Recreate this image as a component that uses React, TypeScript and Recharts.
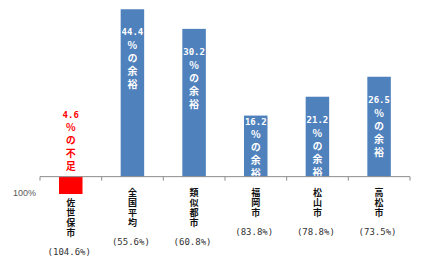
import React from 'react';
import { BarChart, Bar, XAxis, YAxis, ReferenceLine } from 'recharts';

const categories = ['佐世保市', '全国平均', '類似都市', '福岡市', '松山市', '高松市'];
const barValues = [-4.6, 44.4, 39.2, 16.2, 21.2, 26.5];
const labelNumbers = ['4.6', '44.4', '30.2', '16.2', '21.2', '26.5'];
const ratioLabels = ['(104.6%)', '(55.6%)', '(60.8%)', '(83.8%)', '(78.8%)', '(73.5%)'];
const baseLabel = '100%';
const surplusWord = '%の余裕';
const shortageWord = '%の不足';

const data = categories.map((name, i) => ({
  name,
  value: barValues[i],
  num: labelNumbers[i],
  ratio: ratioLabels[i],
}));

const BLUE = '#4F81BD';
const RED = '#FF0000';
const CJK = '"Noto Sans CJK JP", sans-serif';
const MONO = '"DejaVu Sans Mono", monospace';
const vertical: React.CSSProperties = { writingMode: 'vertical-rl', textOrientation: 'upright' } as any;

function BarShape(props: any) {
  const { x, y, width, height, payload } = props;
  const top = Math.min(y, y + height);
  const bottom = Math.max(y, y + height);
  const base = y + height;
  const neg = payload.value < 0;
  const cx = x + width / 2;
  const fill = neg ? RED : BLUE;
  const textColor = neg ? RED : '#FFFFFF';
  const word = neg ? shortageWord : surplusWord;
  const step = 13;
  const wordFont = 10;
  const first = neg ? base - 10 - step * 4 : top + Math.min(23, bottom - top - 55);
  const name = payload.name as string;
  const nChars = Array.from(name).length;
  const catStart = neg ? bottom + 8.5 : base + 15.5;
  const catStep = 10;
  const catFont = 9;
  const ratioY = catStart + (nChars - 1) * catStep + 20;
  return (
    <g>
      <rect x={x} y={top} width={width} height={bottom - top} fill={fill} />
      <text x={cx} y={first} textAnchor="middle" dominantBaseline="central" fill={textColor}
        fontFamily={MONO} fontWeight="bold" fontSize={9}>{payload.num}</text>
      <text x={cx} y={first + step - wordFont / 2} textAnchor="start" style={vertical}
        letterSpacing={step - wordFont} fill={textColor} fontFamily={CJK} fontWeight={700}
        fontSize={wordFont}>{word}</text>
      <text x={cx} y={catStart - catFont / 2} textAnchor="start" style={vertical}
        letterSpacing={catStep - catFont} fill="#111" fontFamily={CJK} fontWeight={700}
        fontSize={catFont}>{name}</text>
      <text x={cx - 1.5} y={ratioY} textAnchor="middle" dominantBaseline="central" fill="#333"
        fontFamily={MONO} fontSize={9}>{payload.ratio}</text>
    </g>
  );
}

function AxisShape(props: any) {
  const { x1, y1, x2 } = props;
  const n = categories.length;
  const ticks = Array.from({ length: n + 1 }, (_, i) => x1 + ((x2 - x1) * i) / n);
  return (
    <g>
      <line x1={x1} y1={y1} x2={x2} y2={y1} stroke="#8C8C8C" strokeWidth={1} />
      {ticks.map((t, i) => (
        <line key={i} x1={t} x2={t} y1={y1} y2={y1 + 4} stroke="#8C8C8C" strokeWidth={1} />
      ))}
      <text x={x1 - 4} y={y1 + 16} textAnchor="end" dominantBaseline="central" fill="#595959"
        fontFamily='"Liberation Sans", Arial, sans-serif' fontSize={9}>{baseLabel}</text>
    </g>
  );
}

export default function App() {
  return (
    <div style={{ position: 'absolute', left: 0, top: 0, background: '#fff' }}>
      <BarChart width={438} height={279} data={data}
        margin={{ top: 7, right: 28, bottom: 83.5, left: 40 }}>
        <XAxis dataKey="name" hide />
        <YAxis hide domain={[-5, 45]} />
        <Bar dataKey="value" barSize={23.5} isAnimationActive={false} shape={BarShape} />
        <ReferenceLine y={0} shape={AxisShape} />
      </BarChart>
    </div>
  );
}
